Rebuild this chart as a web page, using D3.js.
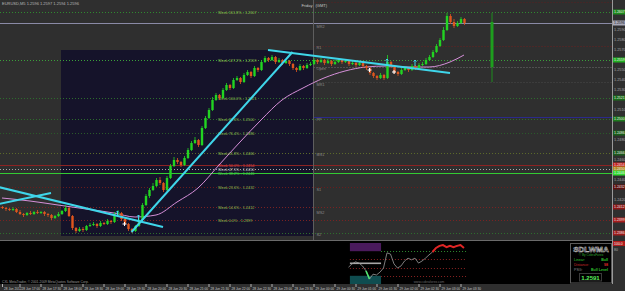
<!DOCTYPE html>
<meta charset="utf-8">
<script src="https://d3js.org/d3.v7.min.js"></script>
<style>
  body { margin: 0; background: #2f2f2f; }
  svg { display: block; font-family: "Liberation Sans", "DejaVu Sans", sans-serif; }
</style>
<div id="chart"></div>
<script>
// EURUSD M5 candles
const opens = [1.2412,1.2411,1.2410,1.2409,1.2410,1.2407,1.2405,1.2404,1.2406,1.2405,
  1.2407,1.2406,1.2407,1.2405,1.2404,1.2401,1.2403,1.2405,1.2408,1.2411,
  1.2403,1.2391,1.2388,1.2390,1.2389,1.2393,1.2394,1.2395,1.2393,1.2396,
  1.2395,1.2398,1.2397,1.2405,1.2406,1.2400,1.2395,1.2390,1.2388,1.2393,
  1.2399,1.2414,1.2423,1.2429,1.2433,1.2439,1.2436,1.2429,1.2441,1.2453,
  1.2459,1.2457,1.2454,1.2461,1.2469,1.2476,1.2479,1.2474,1.2491,1.2501,
  1.2509,1.2519,1.2524,1.2521,1.2529,1.2534,1.2531,1.2539,1.2541,1.2537,
  1.2544,1.2547,1.2543,1.2551,1.2549,1.2557,1.2561,1.2559,1.2562,1.2557,
  1.2559,1.2556,1.2558,1.2555,1.2551,1.2549,1.2553,1.2551,1.2554,1.2555,
  1.2559,1.2557,1.2559,1.2556,1.2558,1.2555,1.2557,1.2559,1.2557,1.2558,
  1.2555,1.2556,1.2554,1.2556,1.2553,1.2551,1.2546,1.2543,1.2541,1.2544,
  1.2541,1.2557,1.2553,1.2547,1.2545,1.2549,1.2551,1.2549,1.2553,1.2551,
  1.2554,1.2555,1.2559,1.2562,1.2567,1.2573,1.2579,1.2589,1.2603,1.2597,
  1.2593,1.2596,1.2600];
const highs = [1.2413,1.2412,1.2411,1.2412,1.2411,1.2409,1.2406,1.2407,1.2408,1.2408,
  1.2409,1.2408,1.2408,1.2406,1.2405,1.2404,1.2407,1.2409,1.2414,1.2412,
  1.2404,1.2392,1.2392,1.2392,1.2394,1.2396,1.2397,1.2396,1.2398,1.2397,
  1.2400,1.2399,1.2407,1.2409,1.2407,1.2401,1.2396,1.2391,1.2394,1.2401,
  1.2416,1.2425,1.2431,1.2436,1.2441,1.2442,1.2437,1.2443,1.2455,1.2462,
  1.2461,1.2458,1.2463,1.2471,1.2478,1.2482,1.2480,1.2493,1.2503,1.2511,
  1.2522,1.2526,1.2525,1.2531,1.2536,1.2535,1.2541,1.2543,1.2542,1.2546,
  1.2549,1.2548,1.2553,1.2552,1.2559,1.2563,1.2562,1.2564,1.2563,1.2561,
  1.2560,1.2560,1.2559,1.2556,1.2552,1.2555,1.2554,1.2556,1.2557,1.2561,
  1.2560,1.2561,1.2560,1.2560,1.2559,1.2559,1.2561,1.2560,1.2560,1.2559,
  1.2558,1.2557,1.2558,1.2557,1.2554,1.2552,1.2547,1.2544,1.2546,1.2545,
  1.2564,1.2558,1.2554,1.2548,1.2551,1.2553,1.2552,1.2555,1.2554,1.2556,
  1.2557,1.2561,1.2564,1.2569,1.2575,1.2581,1.2592,1.2606,1.2605,1.2600,
  1.2598,1.2602,1.2601];
const lows = [1.2410,1.2408,1.2408,1.2408,1.2406,1.2404,1.2402,1.2403,1.2404,1.2404,
  1.2405,1.2405,1.2403,1.2402,1.2399,1.2400,1.2402,1.2404,1.2407,1.2402,
  1.2389,1.2386,1.2387,1.2387,1.2388,1.2392,1.2393,1.2391,1.2392,1.2394,
  1.2394,1.2395,1.2396,1.2404,1.2398,1.2394,1.2388,1.2386,1.2387,1.2392,
  1.2398,1.2413,1.2421,1.2428,1.2432,1.2434,1.2427,1.2428,1.2440,1.2452,
  1.2455,1.2452,1.2453,1.2460,1.2468,1.2475,1.2472,1.2473,1.2490,1.2500,
  1.2508,1.2518,1.2519,1.2520,1.2528,1.2529,1.2530,1.2538,1.2535,1.2536,
  1.2543,1.2541,1.2542,1.2547,1.2548,1.2556,1.2557,1.2558,1.2555,1.2556,
  1.2554,1.2555,1.2553,1.2549,1.2547,1.2548,1.2549,1.2550,1.2553,1.2554,
  1.2555,1.2556,1.2554,1.2555,1.2553,1.2554,1.2556,1.2555,1.2556,1.2553,
  1.2554,1.2552,1.2553,1.2551,1.2549,1.2544,1.2541,1.2539,1.2540,1.2539,
  1.2540,1.2551,1.2545,1.2543,1.2544,1.2548,1.2547,1.2548,1.2549,1.2550,
  1.2553,1.2554,1.2558,1.2561,1.2566,1.2572,1.2578,1.2588,1.2595,1.2591,
  1.2592,1.2595,1.2594];
const closes = [1.2411,1.2410,1.2409,1.2410,1.2407,1.2405,1.2404,1.2406,1.2405,1.2407,
  1.2406,1.2407,1.2405,1.2404,1.2401,1.2403,1.2405,1.2408,1.2411,1.2403,
  1.2391,1.2388,1.2390,1.2389,1.2393,1.2394,1.2395,1.2393,1.2396,1.2395,
  1.2398,1.2397,1.2405,1.2406,1.2400,1.2395,1.2390,1.2388,1.2393,1.2399,
  1.2414,1.2423,1.2429,1.2433,1.2439,1.2436,1.2429,1.2441,1.2453,1.2459,
  1.2457,1.2454,1.2461,1.2469,1.2476,1.2479,1.2474,1.2491,1.2501,1.2509,
  1.2519,1.2524,1.2521,1.2529,1.2534,1.2531,1.2539,1.2541,1.2537,1.2544,
  1.2547,1.2543,1.2551,1.2549,1.2557,1.2561,1.2559,1.2562,1.2557,1.2559,
  1.2556,1.2558,1.2555,1.2551,1.2549,1.2553,1.2551,1.2554,1.2555,1.2559,
  1.2557,1.2559,1.2556,1.2558,1.2555,1.2557,1.2559,1.2557,1.2558,1.2555,
  1.2556,1.2554,1.2556,1.2553,1.2551,1.2546,1.2543,1.2541,1.2544,1.2541,
  1.2557,1.2553,1.2547,1.2545,1.2549,1.2551,1.2549,1.2553,1.2551,1.2554,
  1.2555,1.2559,1.2562,1.2567,1.2573,1.2579,1.2589,1.2603,1.2597,1.2593,
  1.2596,1.2600,1.2596];

// LWMA line, sampled at candle indexes
const lwmaIdx  = [0, 8, 16, 24, 32, 38, 44, 50, 56, 62, 68, 74, 80, 86, 92, 98, 104, 110, 116, 122, 128, 132];
const lwmaVals = [1.2421,1.2418,1.2414,1.2410,1.2406,1.2402,1.2404,1.2417,1.2431,1.2454,1.2477,
  1.2499,1.2519,1.2531,1.2541,1.2548,1.2552,1.2553,1.2552,1.2552,1.2557,1.2564];

// trend lines: [index, price] pairs
const trendLines = [
  [[-1, 1.2432], [46, 1.2392]],
  [[-1, 1.2415], [14, 1.2426]],
  [[37, 1.2387], [83, 1.2567]],
  [[76, 1.2569], [128, 1.2546]]
];
const crossIdx = [35, 105, 112], crossVals = [1.2395, 1.2549, 1.2547];
const arrowIdx = [33, 39, 110, 118], arrowVals = [1.2405, 1.2401, 1.2557, 1.2556];

// weekly fib levels
const fibNames  = ["Week 161.8%","Week 127.2%","Week 100.0%","Week 88.6%","Week 76.4%","Week 61.8%",
  "Week 50.0%","Week 47.5%","Week 38.2%","Week 23.6%","Week 14.6%","Week 0.0%",""];
const fibPrices = [1.2607,1.2559,1.2521,1.2500,1.2486,1.2466,1.2454,1.2450,1.2446,1.2432,1.2412,1.2399,1.2386];
const fibLine   = ["#2f8a2f","#3aa03a","#2d6d2d","#2d6d2d","#2a5a2a","#5b6a2a","#8c2323","#a8a8a8","#33cc33","#6a1c1c","#7a2222","#7a2222","#2d6d2d"];
const fibSolid  = [0,0,0,0,0,0,1,0,1,0,0,0,0];
const fibText   = ["#8fbf4f","#8fbf4f","#8fbf4f","#8fbf4f","#8fbf4f","#8fbf4f","#e04848","#c8c8c8","#4fd04f","#8fbf4f","#8fbf4f","#8fbf4f",""];
const fibBox    = ["#1e8c1e","#22b022","#1a6e1a","#1e7a1e","#195f19","#1d5a1d","#c42020","#b08a20","#33dd33","#5e1010","#8e1616","#a81e1e","#a01c1c"];

// daily pivots (right of day separator)
const pivotNames  = ["MR2","R1","Open","MR1","PP","MS1","S1","MS2","S2"];
const pivotPrices = [1.2593,1.2572,1.2551,1.2535,1.2500,1.2465,1.2430,1.2407,1.2385];
const pivotLines  = [1.2617,1.2573,1.2552,1.2537,1.2502];
const pivotLineColor = ["#5a2020","#6a2020","#707070","#4a4a4a","#2a2a8a"];

const bid = 1.2596;
const dayStart = 89, boxStart = 17, boxTop = 1.2569, boxBottom = 1.2383;
const dailyIdx = 140, dailyO = 1.2552, dailyH = 1.2606, dailyL = 1.2537, dailyC = 1.2597;

const priceTicks = [1.2610,1.2600,1.2590,1.2580,1.2570,1.2560,1.2550,1.2540,1.2530,1.2520,1.2510,
  1.2500,1.2490,1.2480,1.2470,1.2460,1.2450,1.2440,1.2430,1.2420,1.2410,1.2400,1.2390];

const timeIdx = [0,5,11,17,23,29,35,41,47,53,59,65,71,77,83,89,95,101,107,113,119,125,131];
const timeLabels = ["28 Jun 2012","28 Jun 17:00","28 Jun 17:30","28 Jun 18:00","28 Jun 18:30","28 Jun 19:00",
  "28 Jun 19:30","28 Jun 20:00","28 Jun 20:30","28 Jun 21:00","28 Jun 21:30","28 Jun 22:00","28 Jun 22:30",
  "28 Jun 23:00","28 Jun 23:30","29 Jun 00:00","29 Jun 00:30","29 Jun 01:00","29 Jun 01:30","29 Jun 02:00",
  "29 Jun 02:30","29 Jun 03:00","29 Jun 03:30"];

// lower panel oscillator
const oscIdx  = [99,100,101,102,103,104,105,106,107,108,109,110,111,112,113,114,115,116,
  117,118,119,120,121,122,123,124,125,126,127,128,129,130,131,132];
const oscVals = [41,49,54,51,44,32,12,24,22,29,39,76,73,49,39,44,56,63,59,63,51,56,63,71,78,88,93,95,90,93,90,93,95,88];
const oscLevels = [80, 60, 40, 20];

const W = 625, H = 291, plotR = 612, mainB = 240, panT = 241, panB = 284;

const svg = d3.select("#chart").append("svg")
  .attr("width", W).attr("height", H);

const x = d3.scaleLinear().domain([0, 132]).range([2, 464]);
const y = d3.scaleLinear().domain([1.2379, 1.2619]).range([mainB, 0]);
const py = d3.scaleLinear().domain([0, 100]).range([panB, 243]);

svg.append("rect").attr("width", W).attr("height", H).attr("fill", "#2f2f2f");
svg.append("clipPath").attr("id", "clipMain")
  .append("rect").attr("width", plotR).attr("height", mainB);

const main = svg.append("g").attr("clip-path", "url(#clipMain)");

// navy range box
main.append("rect")
  .attr("x", x(boxStart) - 0.5).attr("y", y(boxTop))
  .attr("width", x(dayStart) - x(boxStart)).attr("height", y(boxBottom) - y(boxTop))
  .attr("fill", "#15132a");

// fib lines
fibPrices.forEach((p, i) => {
  main.append("line")
    .attr("x1", 0).attr("x2", plotR)
    .attr("y1", Math.round(y(p)) + 0.5).attr("y2", Math.round(y(p)) + 0.5)
    .attr("stroke", fibLine[i]).attr("stroke-width", 1)
    .attr("stroke-dasharray", fibSolid[i] ? null : "1,2");
});
pivotLines.forEach((p, i) => {
  main.append("line")
    .attr("x1", x(dayStart)).attr("x2", plotR)
    .attr("y1", Math.round(y(p)) + 0.5).attr("y2", Math.round(y(p)) + 0.5)
    .attr("stroke", pivotLineColor[i])
    .attr("stroke-dasharray", i == 4 ? null : "1,2");
});
// bid line
main.append("line").attr("x1", 0).attr("x2", plotR)
  .attr("y1", Math.round(y(bid)) + 0.5).attr("y2", Math.round(y(bid)) + 0.5)
  .attr("stroke", "#8a8aa6");

// day separator
main.append("line").attr("x1", x(dayStart)).attr("x2", x(dayStart))
  .attr("y1", 0).attr("y2", mainB).attr("stroke", "#5e5e5e");

// fib labels
main.selectAll("text.fib").data(fibNames.map((n, i) => ({n, p: fibPrices[i], c: fibText[i]})).filter(d => d.n))
  .join("text")
  .attr("x", 218).attr("y", d => y(d.p) + 1.5)
  .attr("font-size", 3.8).attr("fill", d => d.c)
  .text(d => d.n + " - " + d.p.toFixed(4));

// pivot labels
main.selectAll("text.piv").data(pivotNames)
  .join("text")
  .attr("x", x(dayStart) + 3).attr("y", (d, i) => y(pivotPrices[i]) + 1.5)
  .attr("font-size", 3.8).attr("fill", "#8a8a8a")
  .text(d => d);

// LWMA
main.append("path")
  .datum(lwmaIdx.map((d, i) => [d, lwmaVals[i]]))
  .attr("fill", "none").attr("stroke", "#d58fd8").attr("stroke-width", 1)
  .attr("d", d3.line().x(d => x(d[0])).y(d => y(d[1])).curve(d3.curveMonotoneX));

// candles
const candles = closes.map((c, i) => ({i, o: opens[i], h: highs[i], l: lows[i], c}));
const up = "#22d422", down = "#e0561e";
main.selectAll("line.wick").data(candles).join("line")
  .attr("x1", d => x(d.i) + 0.5).attr("x2", d => x(d.i) + 0.5)
  .attr("y1", d => y(d.h)).attr("y2", d => y(d.l))
  .attr("stroke", d => d.c >= d.o ? up : down).attr("stroke-width", 0.8);
main.selectAll("rect.body").data(candles).join("rect")
  .attr("x", d => x(d.i) - 0.7).attr("width", 2.4)
  .attr("y", d => y(Math.max(d.o, d.c)))
  .attr("height", d => Math.max(1, Math.abs(y(d.o) - y(d.c))))
  .attr("fill", d => d.c >= d.o ? up : down);

// daily candle on the right
main.append("line").attr("x1", x(dailyIdx)).attr("x2", x(dailyIdx))
  .attr("y1", y(dailyH)).attr("y2", y(dailyL)).attr("stroke", "#1e8e1e");
main.append("rect").attr("x", x(dailyIdx) - 1.5).attr("width", 3)
  .attr("y", y(dailyC)).attr("height", y(dailyO) - y(dailyC)).attr("fill", "#1e9e1e");

// trend lines
trendLines.forEach(t => {
  main.append("line")
    .attr("x1", x(t[0][0])).attr("y1", y(t[0][1]))
    .attr("x2", x(t[1][0])).attr("y2", y(t[1][1]))
    .attr("stroke", "#3fd6ea").attr("stroke-width", 2);
});

// markers
crossIdx.forEach((d, i) => {
  main.append("path").attr("transform", `translate(${x(d)},${y(crossVals[i])})`)
    .attr("d", "M-2,0H2M0,-2V2").attr("stroke", "#ffffff").attr("stroke-width", 1);
});
arrowIdx.forEach((d, i) => {
  main.append("path").attr("transform", `translate(${x(d)},${y(arrowVals[i])})`)
    .attr("d", "M0,3V-3M-1.5,-1.5L0,-3L1.5,-1.5").attr("fill", "none")
    .attr("stroke", "#3fd6ea").attr("stroke-width", 1);
});

// header text
svg.append("text").attr("x", 2).attr("y", 5).attr("font-size", 4).attr("fill", "#b8b8b8")
  .text("EURUSD,M5  1.2596 1.2597 1.2594 1.2596");
svg.append("text").attr("x", x(dayStart) - 1).attr("y", 7).attr("font-size", 4)
  .attr("text-anchor", "end").attr("fill", "#c8c8c8").text("Friday");
svg.append("text").attr("x", x(dayStart) + 2).attr("y", 7).attr("font-size", 4)
  .attr("fill", "#c8c8c8").text("(GMT)");

// price axis
svg.append("line").attr("x1", plotR + 0.5).attr("x2", plotR + 0.5).attr("y1", 0).attr("y2", panB)
  .attr("stroke", "#9a9a9a");
const boxes = fibPrices.map((p, i) => ({p, c: fibBox[i]})).concat([{p: bid, c: "#a8a8b8"}]);
// plain ticks only where no coloured box sits
const freeTicks = priceTicks.filter(t => boxes.every(b => Math.abs(y(b.p) - y(t)) > 5.5));
svg.selectAll("text.tick").data(freeTicks).join("text")
  .attr("x", plotR + 2).attr("y", d => y(d) + 1.5)
  .attr("font-size", 3.8).attr("fill", "#a8a8a8")
  .text(d => d.toFixed(4));
svg.selectAll("g.box").data(boxes).join("g")
  .each(function(d) {
    const g = d3.select(this);
    g.append("rect").attr("x", plotR + 1).attr("y", y(d.p) - 2.5).attr("width", 13).attr("height", 5).attr("fill", d.c);
    g.append("text").attr("x", plotR + 2).attr("y", y(d.p) + 1.4).attr("font-size", 3.5)
      .attr("fill", d.c == "#a8a8b8" ? "#202020" : "#e8e8e8").text(d.p.toFixed(4));
  });

// separator between chart and panel
svg.append("line").attr("x1", 0).attr("x2", plotR).attr("y1", mainB + 0.5).attr("y2", mainB + 0.5)
  .attr("stroke", "#6a6a6a");

// lower panel
svg.append("rect").attr("x", 0).attr("y", panT).attr("width", plotR).attr("height", panB - panT).attr("fill", "#000");
const p = svg.append("g");
p.append("rect").attr("x", x(99.4)).attr("y", py(100)).attr("width", x(108.3) - x(99.4))
  .attr("height", py(80) - py(100)).attr("fill", "#4a1a5c");
p.append("rect").attr("x", x(99.4)).attr("y", py(20)).attr("width", x(108.3) - x(99.4))
  .attr("height", py(0) - py(20)).attr("fill", "#0f4d50");
p.append("rect").attr("x", x(99.4)).attr("y", py(50) - 1).attr("width", x(108.3) - x(99.4))
  .attr("height", 1.6).attr("fill", "#a8a8a8");
oscLevels.forEach((v, i) => {
  p.append("line").attr("x1", i == 0 || i == 3 ? x(108.3) : x(99.4)).attr("x2", x(132.8))
    .attr("y1", Math.round(py(v)) + 0.5).attr("y2", Math.round(py(v)) + 0.5)
    .attr("stroke", i == 0 ? "#2f8a2f" : "#8a2222").attr("stroke-dasharray", "1,2");
});
const oscData = oscIdx.map((d, i) => [d, oscVals[i]]);
const oscLine = d3.line().x(d => x(d[0])).y(d => py(d[1]));
p.append("path").datum(oscData).attr("fill", "none").attr("stroke", "#9a9a9a").attr("stroke-width", 0.8).attr("d", oscLine);
p.append("path").datum(oscData.filter(d => d[0] >= 123)).attr("fill", "none")
  .attr("stroke", "#e02424").attr("stroke-width", 2).attr("d", oscLine);
p.append("path").datum(oscData.filter(d => d[0] >= 104 && d[0] <= 105)).attr("fill", "none")
  .attr("stroke", "#50e870").attr("stroke-width", 1.5).attr("d", oscLine);

p.append("text").attr("x", 2).attr("y", 282.5).attr("font-size", 3.3).attr("fill", "#9a9a9a")
  .text("CXL MetaTrader, © 2001-2009 MetaQuotes Software Corp.");
p.append("text").attr("x", x(122)).attr("y", 282.5).attr("font-size", 3.3).attr("fill", "#6a6a6a")
  .attr("text-anchor", "middle").text("www.cobraforex.com");

// info box
const ib = svg.append("g");
ib.append("rect").attr("x", 570.5).attr("y", 243.5).attr("width", 41).attr("height", 39.5)
  .attr("fill", "#000").attr("stroke", "#5a5a5a");
ib.append("text").attr("x", 591).attr("y", 251.5).attr("text-anchor", "middle").attr("font-size", 8)
  .attr("font-weight", "bold").attr("fill", "none").attr("stroke", "#d8d8d8").attr("stroke-width", 0.5)
  .text("SDLWMA");
ib.append("text").attr("x", 591).attr("y", 256).attr("text-anchor", "middle").attr("font-size", 3.2)
  .attr("fill", "#2fa02f").text("© By CobraForex");
const rows = [["Linear:", "Bull", "#2fc02f", "#2fc02f"], ["Distance:", "98", "#d02a2a", "#e02a2a"], ["PSG:", "Bull Level", "#8a8a8a", "#2fc02f"]];
rows.forEach((r, i) => {
  ib.append("text").attr("x", 574).attr("y", 261 + i * 5).attr("font-size", 3.6).attr("fill", r[2]).text(r[0]);
  ib.append("text").attr("x", 608).attr("y", 261 + i * 5).attr("text-anchor", "end").attr("font-size", 3.6)
    .attr("font-weight", "bold").attr("fill", r[3]).text(r[1]);
});
ib.append("rect").attr("x", 579.5).attr("y", 273.5).attr("width", 22).attr("height", 7.5)
  .attr("fill", "#000").attr("stroke", "#3a3a3a");
ib.append("text").attr("x", 590.5).attr("y", 279.6).attr("text-anchor", "middle").attr("font-size", 6)
  .attr("font-weight", "bold").attr("fill", "#5cf05c").text("1.2591");

// panel axis marks
svg.append("rect").attr("x", plotR + 1).attr("y", 241).attr("width", 12).attr("height", 5).attr("fill", "#b01c1c");
svg.append("text").attr("x", plotR + 2).attr("y", 245).attr("font-size", 3.5).attr("fill", "#eee").text("100.0");
svg.append("text").attr("x", plotR + 2).attr("y", 251).attr("font-size", 3.5).attr("fill", "#a8a8a8").text("80");

// time axis
const tg = svg.append("g");
timeIdx.forEach((d, i) => {
  tg.append("line").attr("x1", x(d) + 0.5).attr("x2", x(d) + 0.5).attr("y1", panB).attr("y2", panB + 3)
    .attr("stroke", "#b0b0b0");
  tg.append("text").attr("x", x(d) + 2).attr("y", panB + 5.5).attr("font-size", 3.2)
    .attr("fill", "#c8c8c8").text(timeLabels[i]);
});
</script>
